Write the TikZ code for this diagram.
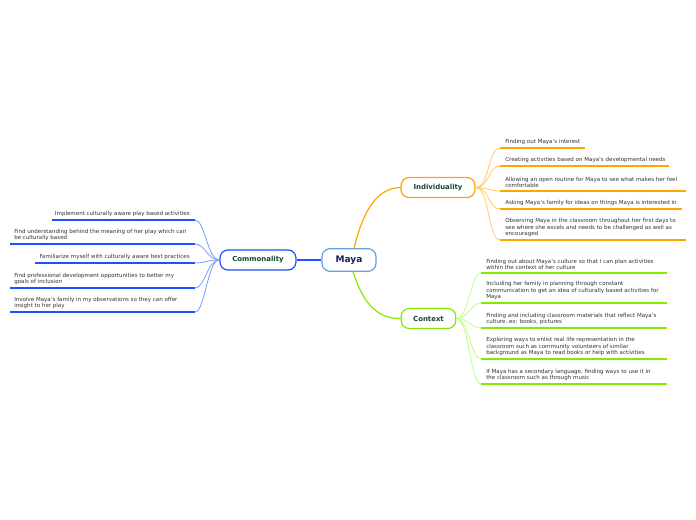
\documentclass[tikz,border=0pt]{standalone}
\usepackage{fontspec}
\setmainfont{DejaVu Sans}
\definecolor{mayaborder}{RGB}{100,160,220}
\definecolor{mayatext}{RGB}{25,35,85}
\definecolor{cblue}{RGB}{30,80,255}
\definecolor{cbluel}{RGB}{120,155,255}
\definecolor{corange}{RGB}{255,165,0}
\definecolor{corangel}{RGB}{255,200,110}
\definecolor{cgreen}{RGB}{130,235,0}
\definecolor{cgreenl}{RGB}{190,255,130}
\definecolor{branchtext}{RGB}{20,70,50}
\definecolor{leaftext}{RGB}{50,50,50}
\tikzset{
  central/.style={draw=mayaborder, line width=0.9pt, fill=white, rounded corners=6pt,
    minimum width=40.5pt, minimum height=17pt, font=\fontsize{6.8pt}{8pt}\selectfont\bfseries, text=mayatext},
  branch/.style={rounded corners=6pt, line width=0.9pt, fill=white, minimum height=15pt,
    font=\fontsize{5.2pt}{6pt}\selectfont\bfseries, text=branchtext},
  leaf/.style={inner sep=0pt, align=left, font=\fontsize{4.15pt}{4.9pt}\selectfont, text=leaftext},
  uline/.style={line width=1.3pt},
  twig/.style={line width=0.6pt},
  limb/.style={line width=0.9pt},
}
\begin{document}
\begin{tikzpicture}[x=0.75pt,y=-0.75pt]
\useasboundingbox (0,0) rectangle (696,520);
% central and branches
\node[central] (maya) at (349,260) {Maya};
\node[branch, draw=cblue, minimum width=57pt] (com) at (258,260) {Commonality};
\node[branch, draw=corange, minimum width=55.5pt] (ind) at (438,187.5) {Individuality};
\node[branch, draw=cgreen, minimum width=41pt] (ctx) at (428.5,318.5) {Context};
% limbs
\draw[limb, cblue] (maya.west) -- (com.east);
\draw[limb, corange] (354,248.5) .. controls (362,215) and (375,188) .. (ind.west);
\draw[limb, cgreen] (353,271.5) .. controls (362,300) and (375,319) .. (ctx.west);

% Individuality leaves
\foreach \n/\u/\e in {1/148/585, 2/166/669, 3/191/686, 4/209/682, 5/240/686} {
  \coordinate (is\n) at (500,\u);
  \coordinate (ie\n) at (\e,\u);
  \draw[uline, corange] (is\n) -- (ie\n);
  \draw[twig, corangel] (ind.east) .. controls +(14,0) and +(-12,0) .. (is\n);
}
\node[leaf, anchor=south west] (i1) at (505,145) {Finding out Maya's interest};
\node[leaf, anchor=south west] (i2) at (505,163) {Creating activities based on Maya's developmental needs};
\node[leaf, anchor=south west] (i3) at (505,188) {Allowing an open routine for Maya to see what makes her feel\\comfortable};
\node[leaf, anchor=south west] (i4) at (505,206) {Asking Maya's family for ideas on things Maya is interested in};
\node[leaf, anchor=south west] (i5) at (505,237) {Observing Maya in the classroom throughout her first days to\\see where she excels and needs to be challenged as well as\\encouraged};

% Context leaves
\foreach \n/\u in {1/273, 2/303, 3/328, 4/359, 5/384} {
  \coordinate (cs\n) at (481,\u);
  \coordinate (ce\n) at (667,\u);
  \draw[uline, cgreen] (cs\n) -- (ce\n);
  \draw[twig, cgreenl] (ctx.east) .. controls +(12,0) and +(-10,0) .. (cs\n);
}
\node[leaf, anchor=south west] (c1) at (486,270) {Finding out about Maya's culture so that I can plan activities\\within the context of her culture};
\node[leaf, anchor=south west] (c2) at (486,300) {Including her family in planning through constant\\communication to get an idea of culturally based activities for\\Maya};
\node[leaf, anchor=south west] (c3) at (486,325) {Finding and including classroom materials that reflect Maya's\\culture..ex: books, pictures};
\node[leaf, anchor=south west] (c4) at (486,356) {Exploring ways to enlist real life representation in the\\classroom such as community volunteers of similar\\background as Maya to read books or help with activities};
\node[leaf, anchor=south west] (c5) at (486,381) {If Maya has a secondary language, finding ways to use it in\\the classroom such as through music};

% Commonality leaves
\foreach \n/\u/\s in {1/220/52, 2/244/10, 3/263/35, 4/288/10, 5/312/10} {
  \coordinate (ms\n) at (195,\u);
  \coordinate (me\n) at (\s,\u);
  \draw[uline, cblue] (me\n) -- (ms\n);
  \draw[twig, cbluel] (com.west) .. controls +(-12,0) and +(10,0) .. (ms\n);
}
\node[leaf, anchor=south east] (m1) at (190,217) {Implement culturally aware play based activities};
\node[leaf, anchor=south west] (m2) at (14,241) {Find understanding behind the meaning of her play which can\\be culturally based};
\node[leaf, anchor=south east] (m3) at (190,260) {Familiarize myself with culturally aware best practices};
\node[leaf, anchor=south west] (m4) at (14,285) {Find professional development opportunities to better my\\goals of inclusion};
\node[leaf, anchor=south west] (m5) at (14,309) {Involve Maya's family in my observations so they can offer\\insight to her play};
\end{tikzpicture}
\end{document}
